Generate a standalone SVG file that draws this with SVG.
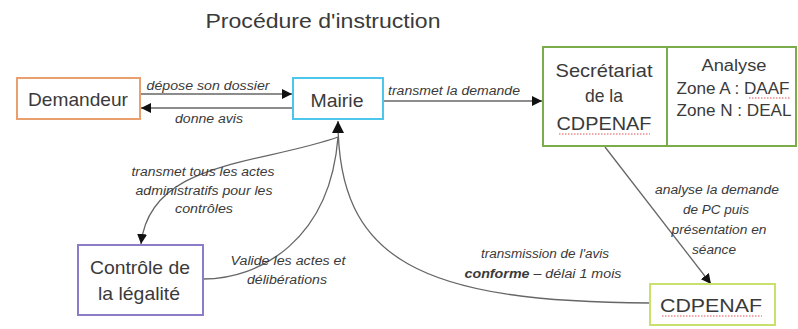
<svg xmlns="http://www.w3.org/2000/svg" width="798" height="329" viewBox="0 0 798 329">
<defs>
<style>
text{font-family:"Liberation Sans Narrow","Liberation Sans",Arial,sans-serif;fill:#3a3a3a}
.t{font-size:20px}
.n{font-size:19px;text-anchor:middle}
.s{font-size:16px;text-anchor:middle}
.l{font-size:12px;font-style:italic;text-anchor:middle}
.box{fill:#fff;stroke-width:2}
.c{fill:none;stroke:#666;stroke-width:1.3}
.sp{stroke:#e05050;stroke-width:1;stroke-dasharray:1.5 1.5;fill:none}
</style>
<marker id="ar" viewBox="0 0 10 10" refX="10" refY="5" markerWidth="10" markerHeight="10" markerUnits="userSpaceOnUse" orient="auto">
<path d="M0,0 L10,5 L0,10 Z" fill="#111"/>
</marker>
<marker id="arB" viewBox="0 0 10 10" refX="10" refY="5" markerWidth="14" markerHeight="12" markerUnits="userSpaceOnUse" orient="auto">
<path d="M0,0 L10,5 L0,10 Z" fill="#111"/>
</marker>
</defs>
<rect width="798" height="329" fill="#fff"/>
<text class="t" x="323" y="28" text-anchor="middle" textLength="235" lengthAdjust="spacingAndGlyphs">Procédure d'instruction</text>

<g id="connectors">
<path class="c" d="M141,94 L292,94" marker-end="url(#ar)"/>
<path class="c" d="M292,108 L141,108" marker-end="url(#ar)"/>
<path class="c" d="M384,101 L542,101" marker-end="url(#ar)"/>
<path class="c" d="M605,147 L711,284" marker-end="url(#ar)"/>
<path class="c" d="M338,137 C260,165 150,160 141,244" marker-end="url(#ar)"/>
<path class="c" d="M203,279 C260,279 330,240 338,137"/>
<path class="c" d="M650,303 C420,302 338,260 338,121" marker-end="url(#arB)"/>
<text class="l" x="208" y="90" textLength="123" lengthAdjust="spacingAndGlyphs">dépose son dossier</text>
<text class="l" x="209" y="123" textLength="68" lengthAdjust="spacingAndGlyphs">donne avis</text>
<text class="l" x="454" y="95" textLength="132" lengthAdjust="spacingAndGlyphs">transmet la demande</text>
<text class="l" x="203" y="176" textLength="143" lengthAdjust="spacingAndGlyphs">transmet tous les actes</text>
<text class="l" x="204" y="195" textLength="137" lengthAdjust="spacingAndGlyphs">administratifs pour les</text>
<text class="l" x="204" y="213" textLength="58" lengthAdjust="spacingAndGlyphs">contrôles</text>
<text class="l" x="288" y="265" textLength="115" lengthAdjust="spacingAndGlyphs">Valide les actes et</text>
<text class="l" x="287" y="284" textLength="80" lengthAdjust="spacingAndGlyphs">délibérations</text>
<text class="l" x="717" y="194" textLength="124" lengthAdjust="spacingAndGlyphs">analyse la demande</text>
<text class="l" x="716" y="214" textLength="66" lengthAdjust="spacingAndGlyphs">de PC puis</text>
<text class="l" x="719" y="234" textLength="95" lengthAdjust="spacingAndGlyphs">présentation en</text>
<text class="l" x="714" y="254" textLength="44" lengthAdjust="spacingAndGlyphs">séance</text>
<text class="l" x="545" y="258" textLength="128" lengthAdjust="spacingAndGlyphs">transmission de l'avis</text>
<text class="l" x="543" y="278" textLength="157" lengthAdjust="spacingAndGlyphs"><tspan font-weight="bold">conforme</tspan> – délai 1 mois</text>
</g>

<g id="demandeur">
<rect class="box" x="17" y="78" width="123" height="41" stroke="#eaa06e"/>
<text class="n" x="78" y="106" textLength="100" lengthAdjust="spacingAndGlyphs">Demandeur</text>
</g>
<g id="mairie">
<rect class="box" x="293" y="78" width="90" height="41" stroke="#4cc6ea"/>
<text class="n" x="337" y="107" textLength="53" lengthAdjust="spacingAndGlyphs">Mairie</text>
</g>
<g id="secretariat">
<rect class="box" x="543" y="47" width="253" height="99" stroke="#7aac4a"/>
<line x1="667" y1="47" x2="667" y2="146" stroke="#7aac4a" stroke-width="2"/>
<text class="n" x="604" y="77" font-size="18" textLength="97" lengthAdjust="spacingAndGlyphs">Secrétariat</text>
<text class="n" x="604" y="102" font-size="18" textLength="38" lengthAdjust="spacingAndGlyphs">de la</text>
<text class="n" x="604" y="130" font-size="18" textLength="95" lengthAdjust="spacingAndGlyphs">CDPENAF</text>
<path class="sp" d="M559,134 L650,134"/>
<text class="s" x="734" y="71" textLength="65" lengthAdjust="spacingAndGlyphs">Analyse</text>
<text class="s" x="733" y="94" textLength="113" lengthAdjust="spacingAndGlyphs">Zone A : DAAF</text>
<path class="sp" d="M749,98 L790,98"/>
<text class="s" x="734" y="116" textLength="115" lengthAdjust="spacingAndGlyphs">Zone N : DEAL</text>
</g>
<g id="controle">
<rect class="box" x="78" y="245" width="125" height="70" stroke="#8c7cc8"/>
<text class="n" x="140" y="274" textLength="100" lengthAdjust="spacingAndGlyphs">Contrôle de</text>
<text class="n" x="139" y="300" textLength="82" lengthAdjust="spacingAndGlyphs">la légalité</text>
</g>
<g id="cdpenaf">
<rect class="box" x="650" y="284" width="125" height="41" stroke="#c8e06c"/>
<text class="n" x="711" y="312" textLength="102" lengthAdjust="spacingAndGlyphs">CDPENAF</text>
<path class="sp" d="M662,316 L762,316"/>
</g>
</svg>
